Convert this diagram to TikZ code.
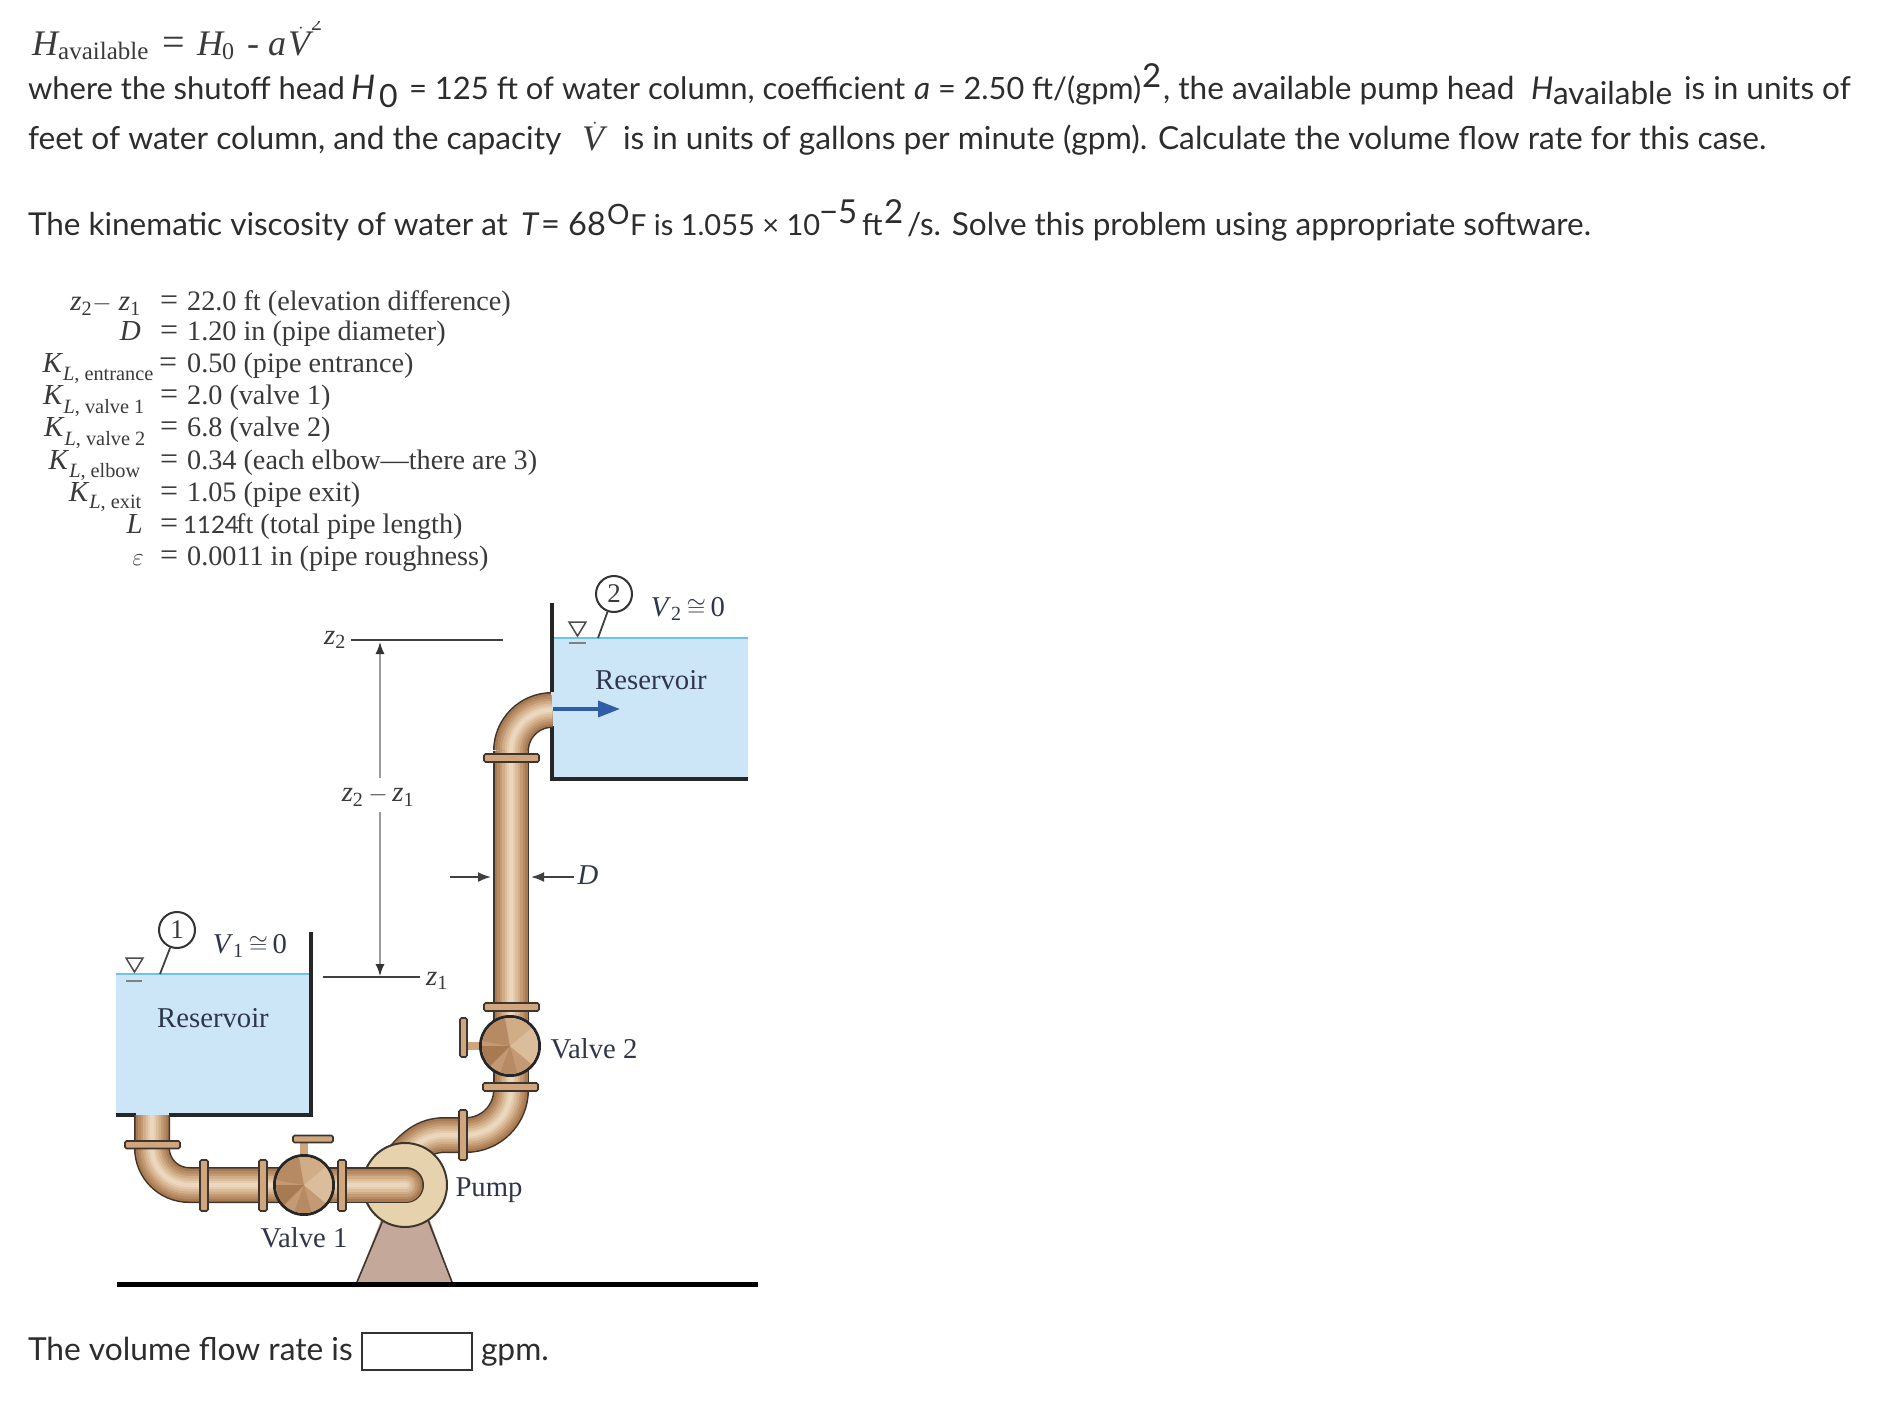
\documentclass[tikz,border=0pt]{standalone}
\usepackage{fontspec}
\setmainfont{Liberation Serif}
\newfontfamily\pxfont{Lato}
\usetikzlibrary{arrows.meta}
\definecolor{txt}{HTML}{2D2D2D}
\definecolor{ser}{HTML}{3A3A3A}
\definecolor{lab}{HTML}{30364A}
\definecolor{dimc}{HTML}{9A9A9A}
\definecolor{water}{HTML}{CCE6F7}
\definecolor{wline}{HTML}{6CC4EE}
\definecolor{pedc}{HTML}{C4A99B}
\definecolor{pumpc}{HTML}{E6D3AE}
\definecolor{flow}{HTML}{2F5DA8}
\definecolor{edge}{HTML}{3F352C}
\definecolor{flangec}{HTML}{CFA67E}
\newcommand{\pipe}[2][]{%
  \draw[line width=36pt,color=edge,#1] #2;
  \draw[line width=33pt,color=HTML1,#1] #2;
  \draw[line width=28pt,color=HTML2,#1] #2;
  \draw[line width=23pt,color=HTML3,#1] #2;
  \draw[line width=18pt,color=HTML4,#1] #2;
  \draw[line width=13pt,color=HTML5,#1] #2;
  \draw[line width=8pt,color=HTML6,#1] #2;
  \draw[line width=4pt,color=HTML7,#1] #2;
}
\definecolor{HTML1}{HTML}{A87A52}
\definecolor{HTML2}{HTML}{B68A62}
\definecolor{HTML3}{HTML}{C39A73}
\definecolor{HTML4}{HTML}{D0AC87}
\definecolor{HTML5}{HTML}{DBBD9B}
\definecolor{HTML6}{HTML}{E5CCAE}
\definecolor{HTML7}{HTML}{EBD7BE}
\newcommand{\wedges}[1]{%
  \fill[color=HTML3] (#1) circle[radius=28];
  \fill[color=HTML2] (#1) -- ++(-100:28) arc[start angle=-100,end angle=-170,radius=28] -- cycle;
  \fill[color=HTML4] (#1) -- ++(-40:28) arc[start angle=-40,end angle=-100,radius=28] -- cycle;
  \fill[color=HTML5] (#1) -- ++(40:28) arc[start angle=40,end angle=-40,radius=28] -- cycle;
  \fill[color=HTML1] (#1) -- ++(-180:28) arc[start angle=-180,end angle=-225,radius=28] -- cycle;
  \fill[color=HTML2] (#1) -- ++(110:28) arc[start angle=110,end angle=75,radius=28] -- cycle;
}
\newcommand{\lsub}[1]{\raisebox{-3pt}{\textsubscript{#1}}}
\newcommand{\fs}[1]{\fontsize{#1}{#1}\selectfont}
\tikzset{
  x=1pt,y=-1pt,
  body/.style={anchor=base west,inner sep=0pt,outer sep=0pt,text=txt,font=\pxfont\fs{31.5}},
  eq/.style={anchor=base west,inner sep=0pt,text=ser,font=\fs{36}},
  rowl/.style={anchor=base east,inner sep=0pt,text=ser,font=\fs{29}},
  rowe/.style={anchor=base west,inner sep=0pt,text=ser,font=\fs{32}},
  rowr/.style={anchor=base west,inner sep=0pt,text=ser,font=\fs{28.2}},
  lab/.style={inner sep=0pt,text=lab,font=\fs{28.7}},
  wall/.style={line width=3.5pt,color=black!85},
  flange/.style={draw=edge,fill=flangec,line width=1.6pt,rounded corners=1.5pt},
  valve/.style={circle,draw=black!85,line width=3pt,minimum size=59pt,inner sep=0pt},
  mark1/.style={draw=black!70,line width=1.5pt,fill=white},
  dimline/.style={color=dimc,line width=1.4pt},
  dimarrow/.style={color=black!75,line width=1.8pt,-{Latex[length=13pt,width=10pt]}},
  refline/.style={color=black!75,line width=2pt},
  stn/.style={circle,draw=black!80,line width=2pt,minimum size=36pt,inner sep=0pt,text=ser,font=\fs{27}},
}
\begin{document}
\begin{tikzpicture}
\useasboundingbox (0,0) rectangle (1880,1404);
\fill[white] (0,0) rectangle (1880,1404);
% top equation, its upper edge cut off as in the reference
\begin{scope}
\clip (0,22) rectangle (1880,80);
\node[eq] (eqn) at (32,56) {\textit{H}};
\node[eq,font=\fs{25}] (eqsub) at (58,60) {available};
\node[eq,font=\fs{40}] (eqe) at (162,56) {=};
\node[eq] (eqh) at (197,56) {\textit{H}};
\node[eq,font=\fs{24}] (eqz) at (222,60) {0};
\node[eq] (eqm) at (247,56) {-};
\node[eq] (eqa) at (268,56) {\textit{a}};
\node[eq] (eqv) at (288,56) {$\dot{\mbox{\textit{V}}}$};
\node[eq,font=\fs{22}] (eqs) at (311,31) {2};
\end{scope}
% line 2
\node[body,font=\pxfont\fs{31}] (l2a) at (28,100) {where the shutoff head};
\node[body,font=\pxfont\fs{34}] (l2b) at (351,100) {\textit{H}};
\node[body,font=\pxfont\fs{32}] (l2c) at (379,108) {0};
\node[body,font=\pxfont\fs{31}] (l2d) at (409,100) {= 125 ft of water column, coefficient};
\node[body] (l2e) at (914,100) {\textit{a}};
\node[body,font=\pxfont\fs{30.7}] (l2f) at (938,100) {= 2.50 ft/(gpm)};
\node[body,font=\pxfont\fs{33}] (l2g) at (1142,88) {2};
\node[body,font=\pxfont\fs{31.6}] (l2h) at (1163,100) {, the available pump head};
\node[body] (l2i) at (1531,100) {\textit{H}};
\node[body] (l2j) at (1553,105) {available};
\node[body] (l2k) at (1684,100) {is in units of};
% line 3
\node[body,font=\pxfont\fs{31.7}] (l3a) at (28,150) {feet of water column, and the capacity};
\node[eq] (l3v) at (582,151) {$\dot{\mbox{\textit{V}}}$};
\node[body,font=\pxfont\fs{31.7}] (l3b) at (623,150) {is in units of gallons per minute (gpm). Calculate the volume flow rate for this case.};
% line 4
\node[body] (l4a) at (28,236) {The kinematic viscosity of water at};
\node[body] (l4b) at (521,236) {\textit{T}};
\node[body,font=\pxfont\fs{32.5}] (l4c) at (541,236) {= 68};
\node[body,font=\pxfont\fs{28}] (l4d) at (607,225) {O};
\node[body,font=\pxfont\fs{29}] (l4e) at (630,236) {F is 1.055 × 10};
\node[body,font=\pxfont\fs{33}] (l4f) at (819,224) {−5};
\node[body,font=\pxfont\fs{30}] (l4g) at (862,236) {ft};
\node[body,font=\pxfont\fs{33}] (l4h) at (884,224) {2};
\node[body,font=\pxfont\fs{31.5}] (l4i) at (907,236) {/s. Solve this problem using appropriate software.};
% parameter table
\node[rowl] (r1) at (141,311) {\textit{z}\textsubscript{\textup{2}}$-$ \textit{z}\textsubscript{\textup{1}}};
\node[rowe] (e1) at (160,311) {=};
\node[rowr] (v1) at (187,311) {22.0 ft (elevation difference)};
\node[rowl] (r2) at (141,341) {\textit{D}};
\node[rowe] (e2) at (160,341) {=};
\node[rowr] (v2) at (187,341) {1.20 in (pipe diameter)};
\node[rowl] (r3) at (154,373) {\textit{K}\lsub{\textit{L}, entrance}};
\node[rowe] (e3) at (159,373) {=};
\node[rowr] (v3) at (187,373) {0.50 (pipe entrance)};
\node[rowl] (r4) at (145,405) {\textit{K}\lsub{\textit{L}, valve 1}};
\node[rowe] (e4) at (160,405) {=};
\node[rowr] (v4) at (187,405) {2.0 (valve 1)};
\node[rowl] (r5) at (146,437) {\textit{K}\lsub{\textit{L}, valve 2}};
\node[rowe] (e5) at (160,437) {=};
\node[rowr] (v5) at (187,437) {6.8 (valve 2)};
\node[rowl] (r6) at (141,469) {\textit{K}\lsub{\textit{L}, elbow}};
\node[rowe] (e6) at (160,469) {=};
\node[rowr] (v6) at (187,469) {0.34 (each elbow---there are 3)};
\node[rowl] (r7) at (142,501) {\textit{K}\lsub{\textit{L}, exit}};
\node[rowe] (e7) at (160,501) {=};
\node[rowr] (v7) at (187,501) {1.05 (pipe exit)};
\node[rowl] (r8) at (143,533) {\textit{L}};
\node[rowe] (e8) at (160,533) {=};
\node[rowr,font=\pxfont\fs{24}] (v8n) at (183,533) {1124};
\node[rowr] (v8) at (236,533) {ft (total pipe length)};
\node[rowl] (r9) at (144,565) {$\varepsilon$};
\node[rowe] (e9) at (160,565) {=};
\node[rowr] (v9) at (187,565) {0.0011 in (pipe roughness)};
% reservoirs
\fill[water] (116,974) rectangle (311,1115);
\fill[water] (552,638) rectangle (748,779);
\draw[wline,line width=2pt] (116,974) -- (311,974);
\draw[wline,line width=2pt] (552,638) -- (748,638);
\draw[wall] (311,932) -- (311,1115) -- (169,1115);
\draw[wall] (136,1115) -- (116,1115);
\draw[wall] (552,603) -- (552,692);
\draw[wall] (552,726) -- (552,779) -- (748,779);
\node[lab] (res2) at (651,680) {Reservoir};
\node[lab] (res1) at (213,1018) {Reservoir};
% surface marks and station circles
\draw[mark1] (126,958) -- (143,958) -- (134.5,972) -- cycle;
\draw[color=black!50,line width=1.5pt] (126,981) -- (142,981);
\draw[mark1] (569,622) -- (586,622) -- (577.5,636) -- cycle;
\draw[color=black!50,line width=1.5pt] (569,643) -- (586,643);
\node[stn] (st1) at (177,930) {1};
\node[stn] (st2) at (614,594) {2};
\coordinate (s1) at (160,974);
\coordinate (s2) at (598,638);
\draw[color=black!75,line width=1.8pt] (st1) -- (s1);
\draw[color=black!75,line width=1.8pt] (st2) -- (s2);
\node[lab] (v1lab) at (250,946) {\textit{V}\textsubscript{\textup{1}}\,$\cong$\,0};
\node[lab] (v2lab) at (688,609) {\textit{V}\textsubscript{\textup{2}}\,$\cong$\,0};
% elevation marks
\coordinate (z2a) at (351,640); \coordinate (z2b) at (503,640);
\coordinate (z1a) at (323,977); \coordinate (z1b) at (420,977);
\draw[refline] (z2a) -- (z2b);
\draw[refline] (z1a) -- (z1b);
\node[lab,text=ser] (z2lab) at (335,640) {\textit{z}\textsubscript{\textup{2}}};
\node[lab,text=ser] (z1lab) at (437,981) {\textit{z}\textsubscript{\textup{1}}};
\node[lab,text=ser] (zdlab) at (378,797) {\textit{z}\textsubscript{\textup{2}}\,$-$\,\textit{z}\textsubscript{\textup{1}}};
\coordinate (d1) at (380,778); \coordinate (d2) at (380,642);
\coordinate (d3) at (380,812); \coordinate (d4) at (380,976);
\draw[dimline,-{Latex[length=12pt,width=9pt,black!80]}] (d1) -- (d2);
\draw[dimline,-{Latex[length=12pt,width=9pt,black!80]}] (d3) -- (d4);
% pedestal, behind the pump
\fill[pedc] (383,1215) -- (428,1215) -- (452,1282) -- (357,1282) -- cycle;
\draw[color=edge,line width=1.6pt] (383,1220) -- (357,1282);
\draw[color=edge,line width=1.6pt] (428,1220) -- (452,1282);
\draw[line width=5pt,color=black] (117,1284) -- (758,1284);
% pipes
\pipe{(511,751) arc[start angle=180,end angle=270,radius=41]}
\pipe{(511,1090) -- (511,751)}
\pipe{(511,1090) arc[start angle=0,end angle=90,radius=45] -- (445,1135) .. controls (425,1135) and (412,1145) .. (395,1168)}
\node[circle,draw=edge,line width=2pt,fill=pumpc,minimum size=84pt,inner sep=0pt] (pump) at (405,1185) {};
\pipe[line cap=round]{(300,1185) -- (406,1185)}
\pipe{(152,1115) -- (152,1148) arc[start angle=180,end angle=90,radius=37] -- (300,1185)}
% flow arrow
\coordinate (fa) at (553,709); \coordinate (fb) at (620,709);
\draw[flow,line width=3.5pt,-{Triangle[length=22pt,width=16pt]}] (fa) -- (fb);
% flanges
\draw[flange] (125,1141) rectangle (180,1148.5);
\draw[flange] (200,1160) rectangle (208,1211);
\draw[flange] (259,1160) rectangle (267,1211);
\draw[flange] (338,1160) rectangle (346,1211);
\draw[flange] (484,754) rectangle (539,762);
\draw[flange] (484,1003) rectangle (539,1011);
\draw[flange] (483,1083) rectangle (538,1091);
\draw[flange] (459,1110) rectangle (467,1160);
% valve handles
\fill[flangec] (300,1140) rectangle (308,1158);
\draw[flange] (293,1135.5) rectangle (333,1142.5);
\fill[flangec] (463,1042) rectangle (482,1050);
\draw[flange] (460,1018) rectangle (467,1057);
% valves
\node[valve] (vv1) at (304,1185) {};
\wedges{vv1.center}
\node[valve] (vv2) at (510,1046) {};
\wedges{vv2.center}
% labels
\node[lab] (lv1) at (304,1238) {Valve 1};
\node[lab] (lv2) at (594,1049) {Valve 2};
\node[lab] (lp) at (489,1190) {Pump};
% D arrows
\coordinate (da) at (450,877); \coordinate (db) at (491,877);
\coordinate (dc) at (574,877); \coordinate (dd) at (531,877);
\draw[dimarrow] (da) -- (db);
\draw[dimarrow] (dc) -- (dd);
\node[lab] (dlab) at (588,875) {\textit{D}};
% answer line
\node[body,font=\pxfont\fs{31.7}] (ans1) at (28,1360) {The volume flow rate is};
\node[draw=black!80,line width=1.5pt,minimum width=110pt,minimum height=37pt,inner sep=0pt] (ansbox) at (417,1351.5) {};
\node[body,font=\pxfont\fs{31.7}] (ans2) at (481,1360) {gpm.};
\end{tikzpicture}
\end{document}
